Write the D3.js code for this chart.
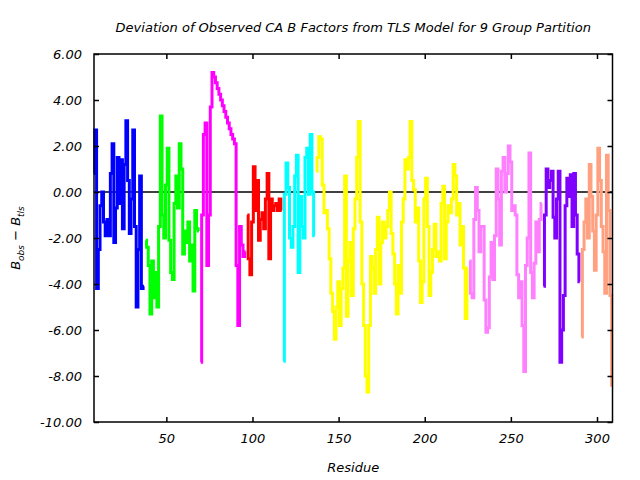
<!DOCTYPE html>
<html><head><meta charset="utf-8">
<script src="https://cdn.jsdelivr.net/npm/d3@7"></script>
<style>body{margin:0;background:#fff}text{font-family:"DejaVu Sans",sans-serif;font-style:italic}</style>
</head><body><svg id="c" width="640" height="480"></svg>
<script>
const title = "Deviation of Observed CA B Factors from TLS Model for 9 Group Partition";
const xLabel = "Residue";
const yTicks = [6, 4, 2, 0, -2, -4, -6, -8, -10];
const xTicks = [50, 100, 150, 200, 250, 300];
const groupColors = ["#0000ff", "#00ff00", "#ff00ff", "#ff0000", "#00ffff", "#ffff00", "#ff80ff", "#8000ff", "#ffa080"];
const groupStarts = [8, 38, 70, 97, 118, 137, 226, 269, 291];
const g1 = [0.8,2.7,-4.2,-2.5,-0.6,0.0,-1.3,-1.9,-1.2,-1.9,0.8,2.1,-2.2,-0.7,1.5,-0.5,1.4,-1.6,1.2,3.1,0.5,-1.8,-0.3,2.7,-1.5,-5.0,-2.5,0.7,-4.2,-4.1];
const g2 = [-2.1,-2.4,-3.2,-5.3,-3.0,-4.6,-3.5,-5.0,-1.5,3.3,-1.0,-2.0,0.3,1.9,-2.1,-3.5,-3.8,-0.5,0.7,-0.7,2.1,1.0,-2.7,-1.7,-2.2,-1.3,-3.0,-2.3,-4.3,-0.8,-1.6,-1.7];
const g3 = [-7.4,-1.0,2.5,3.0,-3.2,-1.0,3.7,5.2,5.0,4.75,4.5,4.25,4.0,3.75,3.5,3.25,3.0,2.75,2.5,2.3,2.1,-3.2,-5.8,-1.5,-2.3,-2.8,-2.6];
const g4 = [-1.0,-2.9,-3.6,-1.3,1.1,-0.8,0.5,-2.1,-1.2,-0.9,-1.6,-0.3,0.8,-2.9,-0.3,-0.8,-0.6,-0.5,-0.8,-0.3,-0.8];
const g5 = [-7.36,-0.1,1.26,0.2,-2.0,-2.4,-1.5,0.7,1.6,-3.5,-0.2,-1.5,-2.0,1.5,1.9,-0.1,2.5,0.0,-1.9];
const g6 = [0.9,1.5,2.4,2.3,0.3,-0.9,-0.8,-1.6,-2.9,-4.4,-5.2,-6.4,-5.0,-3.9,-5.8,-4.2,-3.3,0.7,-5.4,-3.0,-2.2,-4.5,-1.6,-0.3,1.5,3.07,-1.3,-4.0,-5.8,-8.0,-8.7,-5.8,-2.8,-3.3,-4.4,-2.5,-1.1,-4.0,-2.2,-1.3,-2.0,-1.5,-0.8,0.0,-1.8,-2.7,-4.0,-5.3,-3.2,-4.4,-1.3,-0.3,1.4,1.0,1.5,3.07,0.5,0.1,-1.3,-0.7,-3.0,-4.8,-3.9,-0.3,0.6,-1.5,-4.5,-3.5,-2.5,-1.4,-2.8,-2.6,-3.0,-0.5,0.25,-2.9,-1.3,-0.6,-0.9,-0.3,1.2,0.7,-1.0,-0.5,-2.3,-1.5,-3.3,-5.5,-3.3];
const g7 = [-3.0,-4.4,-4.6,-1.2,0.2,-0.8,-2.6,-1.5,-1.5,-4.7,-6.1,-5.9,-3.7,-2.2,-3.8,-1.9,1.0,-0.3,-2.3,0.9,1.5,0.0,0.8,2.0,1.3,-0.8,-0.6,-1.0,-3.6,-4.6,-3.9,-5.8,-7.8,-3.2,-2.0,1.7,-3.5,-4.6,-3.1,-1.3,-2.6,-1.2,-0.5];
const g8 = [-4.1,-1.0,1.0,0.2,0.5,0.9,-1.1,-2.0,-0.3,0.9,-7.4,-6.0,-4.5,-0.6,0.6,-0.2,0.75,-1.5,0.8,-1.0,-2.7,-3.9];
const g9 = [-6.3,-2.5,-1.3,-0.3,-2.0,1.2,-0.2,-1.7,-3.4,-1.0,1.9,0.5,-1.5,-2.6,-4.4,1.6,-0.8,-4.5,-8.4];
const groups = [g1,g2,g3,g4,g5,g6,g7,g8,g9];

const L = 94, R = 612.5, T = 54, B = 422;
const svg = d3.select("#c");
const x = d3.scaleLinear().domain([8, 309]).range([L, R]);
const y = d3.scaleLinear().domain([-10, 6]).range([B, T]);

svg.append("line").attr("x1", L).attr("x2", R).attr("y1", y(0)).attr("y2", y(0))
  .attr("stroke", "#000").attr("stroke-width", 1.5);

const line = d3.line().x(d => x(d[0])).y(d => y(d[1])).curve(d3.curveStep);
groups.forEach((vals, gi) => {
  const pts = vals.map((v, i) => [groupStarts[gi] + i, v]);
  svg.append("path").attr("d", line(pts)).attr("fill", "none")
    .attr("stroke", groupColors[gi]).attr("stroke-width", 3).attr("stroke-linejoin", "miter");
});

svg.append("rect").attr("x", L).attr("y", T).attr("width", R - L).attr("height", B - T)
  .attr("fill", "none").attr("stroke", "#000").attr("stroke-width", 1.5);

const yAxisL = d3.axisLeft(y).tickValues(yTicks).tickSize(-5).tickPadding(12).tickFormat(d => d.toFixed(2));
const yAxisR = d3.axisRight(y).tickValues(yTicks).tickSize(-5).tickFormat("");
const xAxisB = d3.axisBottom(x).tickValues(xTicks).tickSize(-5).tickPadding(12).tickFormat(d3.format("d"));
const xAxisT = d3.axisTop(x).tickValues(xTicks).tickSize(-5).tickFormat("");
[[yAxisL, `translate(${L},0)`], [yAxisR, `translate(${R},0)`], [xAxisB, `translate(0,${B})`], [xAxisT, `translate(0,${T})`]]
  .forEach(([ax, tr]) => {
    const g = svg.append("g").attr("transform", tr).call(ax);
    g.select(".domain").remove();
    g.selectAll("line").attr("stroke", "#000").attr("stroke-width", 1.5);
    g.selectAll("text").attr("font-size", 13).attr("fill", "#000")
      .style("font-family", '"DejaVu Sans", sans-serif').style("font-style", "italic");
  });

svg.append("text").attr("x", (L + R) / 2).attr("y", 32).attr("text-anchor", "middle")
  .attr("font-size", 13).text(title);
svg.append("text").attr("x", (L + R) / 2).attr("y", 472).attr("text-anchor", "middle")
  .attr("font-size", 13).text(xLabel);
const yl = svg.append("text").attr("transform", `translate(20,${(T + B) / 2}) rotate(-90)`)
  .attr("text-anchor", "middle").attr("font-size", 13);
yl.append("tspan").text("B");
yl.append("tspan").attr("font-size", 9).attr("dy", 4).text("obs");
yl.append("tspan").attr("dy", -4).text(" − B");
yl.append("tspan").attr("font-size", 9).attr("dy", 4).text("tls");
</script></body></html>
